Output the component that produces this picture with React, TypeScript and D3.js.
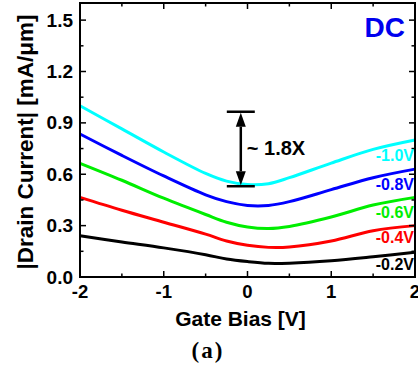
import { useEffect, useRef } from 'react'
import * as d3 from 'd3'

const gateBias = [-2, -1.5, -1, -0.5, -0.25, 0, 0.25, 0.5, 1, 1.5, 2]

const drainLabels = ['-1.0V', '-0.8V', '-0.6V', '-0.4V', '-0.2V']
const drainColors = ['#00ffff', '#0000ff', '#00ee00', '#ff0000', '#000000']

const current10 = [1.0, 0.865, 0.73, 0.605, 0.56, 0.54, 0.545, 0.58, 0.665, 0.745, 0.8]
const current08 = [0.835, 0.71, 0.59, 0.48, 0.44, 0.418, 0.418, 0.44, 0.51, 0.58, 0.63]
const current06 = [0.664, 0.565, 0.46, 0.365, 0.32, 0.292, 0.283, 0.295, 0.35, 0.42, 0.465]
const current04 = [0.465, 0.39, 0.32, 0.25, 0.21, 0.185, 0.173, 0.175, 0.21, 0.27, 0.3]
const current02 = [0.241, 0.205, 0.17, 0.13, 0.105, 0.09, 0.08, 0.081, 0.095, 0.118, 0.144]

const xTicks = [-2, -1, 0, 1, 2]
const yTicks = [0, 0.3, 0.6, 0.9, 1.2, 1.5]

// arrow annotation (gate bias, top current, bottom current)
const arrowAt = { x: -0.08, top: 0.965, bottom: 0.53 }

export default function App() {
  const svgRef = useRef<SVGSVGElement>(null)
  const width = 418
  const height = 370
  const margin = { top: 3, right: 3, bottom: 93, left: 80 }

  useEffect(() => {
    if (!svgRef.current) return
    const svg = d3.select(svgRef.current)
    svg.selectAll('*').remove()

    const innerWidth = width - margin.left - margin.right
    const innerHeight = height - margin.top - margin.bottom

    const x = d3.scaleLinear().domain([-2, 2]).range([0, innerWidth])
    const y = d3.scaleLinear().domain([0, 1.6]).range([innerHeight, 0])

    const g = svg.append('g')
      .attr('transform', `translate(${margin.left},${margin.top})`)

    const series = [current10, current08, current06, current04, current02]
    const line = d3.line<number>()
      .x((_, i) => x(gateBias[i]))
      .y(d => y(d))
      .curve(d3.curveCatmullRom.alpha(0.5))

    series.forEach((s, i) => {
      g.append('path')
        .datum(s)
        .attr('d', line)
        .attr('fill', 'none')
        .attr('stroke', drainColors[i])
        .attr('stroke-width', 3)
    })

    // frame
    g.append('rect')
      .attr('width', innerWidth)
      .attr('height', innerHeight)
      .attr('fill', 'none')
      .attr('stroke', '#000')
      .attr('stroke-width', 2)

    // ticks (inward, mirrored)
    const xMinor = d3.range(-2, 2.01, 0.5)
    xMinor.forEach(v => {
      const major = xTicks.includes(v)
      const len = major ? 6 : 3.5
      g.append('line').attr('x1', x(v)).attr('x2', x(v))
        .attr('y1', innerHeight).attr('y2', innerHeight - len)
        .attr('stroke', '#000').attr('stroke-width', 1.5)
      g.append('line').attr('x1', x(v)).attr('x2', x(v))
        .attr('y1', 0).attr('y2', len)
        .attr('stroke', '#000').attr('stroke-width', 1.5)
    })
    const yMinor = d3.range(0, 1.6, 0.15)
    yMinor.forEach((v, i) => {
      const len = i % 2 === 0 ? 6 : 3.5
      g.append('line').attr('x1', 0).attr('x2', len)
        .attr('y1', y(v)).attr('y2', y(v))
        .attr('stroke', '#000').attr('stroke-width', 1.5)
      g.append('line').attr('x1', innerWidth).attr('x2', innerWidth - len)
        .attr('y1', y(v)).attr('y2', y(v))
        .attr('stroke', '#000').attr('stroke-width', 1.5)
    })

    const font = 'Liberation Sans, Arial, sans-serif'

    g.selectAll('.xlab')
      .data(xTicks)
      .enter().append('text')
      .attr('x', d => x(d))
      .attr('y', innerHeight + 21)
      .attr('text-anchor', 'middle')
      .attr('font-family', font)
      .attr('font-weight', 'bold')
      .attr('font-size', 18.5)
      .text(d => String(d))

    g.selectAll('.ylab')
      .data(yTicks)
      .enter().append('text')
      .attr('x', -7)
      .attr('y', d => y(d) + 6.5)
      .attr('text-anchor', 'end')
      .attr('font-family', font)
      .attr('font-weight', 'bold')
      .attr('font-size', 19)
      .text(d => d.toFixed(1))

    // axis titles
    g.append('text')
      .attr('x', innerWidth / 2 - 7)
      .attr('y', innerHeight + 49)
      .attr('text-anchor', 'middle')
      .attr('font-family', font)
      .attr('font-weight', 'bold')
      .attr('font-size', 21)
      .text('Gate Bias [V]')

    svg.append('text')
      .attr('transform', `translate(33,142) rotate(-90)`)
      .attr('text-anchor', 'middle')
      .attr('font-family', font)
      .attr('font-weight', 'bold')
      .attr('font-size', 22.5)
      .text('|Drain Current| [mA/μm]')

    svg.append('text')
      .attr('x', 208)
      .attr('y', 358)
      .attr('text-anchor', 'middle')
      .attr('font-family', 'Liberation Serif, Times New Roman, serif')
      .attr('font-weight', 'bold')
      .attr('font-size', 23)
      .attr('letter-spacing', 2)
      .text('(a)')

    // curve labels
    const labelY = [0.68, 0.51, 0.345, 0.2, 0.043]
    drainLabels.forEach((t, i) => {
      g.append('text')
        .attr('x', innerWidth - 1)
        .attr('y', y(labelY[i]))
        .attr('text-anchor', 'end')
        .attr('font-family', font)
        .attr('font-weight', 'bold')
        .attr('font-size', 16)
        .attr('fill', drainColors[i])
        .text(t)
    })

    g.append('text')
      .attr('x', innerWidth - 10)
      .attr('y', 34)
      .attr('text-anchor', 'end')
      .attr('font-family', font)
      .attr('font-weight', 'bold')
      .attr('font-size', 28)
      .attr('fill', '#0000ee')
      .text('DC')

    // ~1.8X arrow
    const ax = x(arrowAt.x)
    const yt = y(arrowAt.top)
    const yb = y(arrowAt.bottom)
    const head = 15
    ;[yt, yb].forEach(yy => {
      g.append('line')
        .attr('x1', ax - 14).attr('x2', ax + 14)
        .attr('y1', yy).attr('y2', yy)
        .attr('stroke', '#000').attr('stroke-width', 2.5)
    })
    g.append('line')
      .attr('x1', ax).attr('x2', ax)
      .attr('y1', yt + head).attr('y2', yb - head)
      .attr('stroke', '#000').attr('stroke-width', 2.5)
    g.append('path')
      .attr('d', `M${ax},${yt + 1}L${ax - 5},${yt + head}L${ax + 5},${yt + head}Z`)
      .attr('fill', '#000')
    g.append('path')
      .attr('d', `M${ax},${yb - 1}L${ax - 5},${yb - head}L${ax + 5},${yb - head}Z`)
      .attr('fill', '#000')
    g.append('text')
      .attr('x', ax + 6)
      .attr('y', (yt + yb) / 2 + 6)
      .attr('font-family', font)
      .attr('font-weight', 'bold')
      .attr('font-size', 20)
      .text('~ 1.8X')
  }, [])

  return (
    <svg
      ref={svgRef}
      width={width}
      height={height}
      style={{ position: 'absolute', left: 0, top: 0, background: '#fff' }}
    />
  )
}
